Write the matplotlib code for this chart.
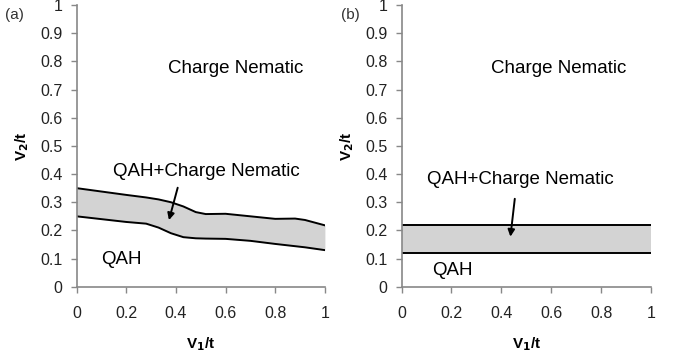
import numpy as np
import matplotlib.pyplot as plt

plt.rcParams['font.family'] = ['Liberation Sans', 'DejaVu Sans']

# panel (a) phase boundaries
xa = [0, 0.1, 0.2, 0.28, 0.33, 0.38, 0.43, 0.48, 0.52, 0.6, 0.7, 0.8, 0.88, 0.92, 1.0]
upper_a = [0.35, 0.338, 0.326, 0.317, 0.31, 0.30, 0.285, 0.265, 0.258, 0.259, 0.25, 0.241, 0.242, 0.237, 0.218]
lower_a = [0.25, 0.24, 0.23, 0.224, 0.21, 0.19, 0.176, 0.172, 0.171, 0.17, 0.163, 0.152, 0.144, 0.14, 0.13]

# panel (b) phase boundaries
xb = [0, 1]
upper_b = [0.22, 0.22]
lower_b = [0.12, 0.12]

xticks = [0, 0.2, 0.4, 0.6, 0.8, 1]
xticklabels = ['0', '0.2', '0.4', '0.6', '0.8', '1']
yticks = [0, 0.1, 0.2, 0.3, 0.4, 0.5, 0.6, 0.7, 0.8, 0.9, 1]
yticklabels = ['0', '0.1', '0.2', '0.3', '0.4', '0.5', '0.6', '0.7', '0.8', '0.9', '1']

fig = plt.figure(figsize=(6.84, 3.58), dpi=100)
ax1 = fig.add_axes([0.112, 0.199, 0.363, 0.787])
ax2 = fig.add_axes([0.587, 0.199, 0.365, 0.787])

panels = [
    (ax1, xa, upper_a, lower_a, (0.37, 0.776), (0.147, 0.41), (0.10, 0.098),
     (0.41, 0.361), (0.369, 0.227)),
    (ax2, xb, upper_b, lower_b, (0.358, 0.776), (0.103, 0.379), (0.124, 0.059),
     (0.455, 0.322), (0.435, 0.168)),
]

for ax, x, up, lo, cn, mix, qah, astart, aend in panels:
    ax.fill_between(x, lo, up, color='#d3d3d3', lw=0)
    ax.plot(x, up, color='black', lw=1.4)
    ax.plot(x, lo, color='black', lw=1.4)
    ax.set_xlim(0, 1)
    ax.set_ylim(0, 1)
    ax.set_xticks(xticks)
    ax.set_xticklabels(xticklabels)
    ax.set_yticks(yticks)
    ax.set_yticklabels(yticklabels)
    for s in ['top', 'right']:
        ax.spines[s].set_visible(False)
    for s in ['left', 'bottom']:
        ax.spines[s].set_color('#888888')
        ax.spines[s].set_linewidth(1.2)
    ax.tick_params(colors='#888888', labelcolor='#222222', labelsize=11.5, length=4, width=1)
    ax.tick_params(axis='x', pad=10)
    ax.tick_params(axis='y', pad=6)
    ax.set_xlabel('V$_\\mathbf{1}$/t', fontsize=11, fontweight='bold', labelpad=10)
    ax.set_ylabel('V$_\\mathbf{2}$/t', fontsize=11, fontweight='bold', labelpad=7)
    ax.text(cn[0], cn[1], 'Charge Nematic', fontsize=13.5, va='center')
    ax.text(mix[0], mix[1], 'QAH+Charge Nematic', fontsize=13.5, va='center')
    ax.text(qah[0], qah[1], 'QAH', fontsize=13.5, va='center')
    ax.annotate('', xy=aend, xytext=astart,
                arrowprops=dict(arrowstyle='-|>', color='black', lw=1.4, mutation_scale=10))

fig.text(5 / 684, 1 - 15 / 358, '(a)', fontsize=11, va='center', color='#333333')
fig.text(341 / 684, 1 - 15 / 358, '(b)', fontsize=11, va='center', color='#333333')

fig.savefig('out.png', dpi=100)
